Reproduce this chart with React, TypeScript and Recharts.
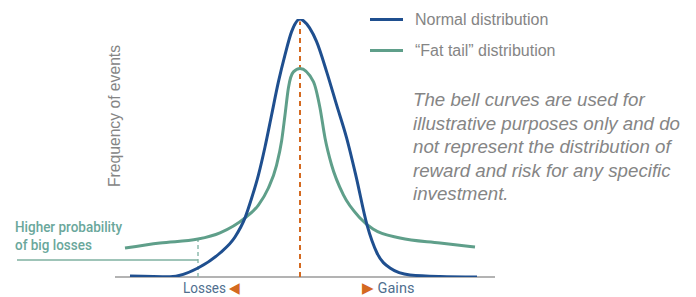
import { Line, LineChart, ReferenceLine, XAxis, YAxis } from 'recharts';

// positions on the gain/loss axis (0 = mean) and frequency (peak of normal = 100)
const normalX = [-8.5, -6.5, -5.1, -4.0, -3.25, -2.75, -2.42, -2.08, -1.75, -1.42, -1.08, -0.75, -0.42, 0, 0.17, 0.83, 1.33, 1.83, 2.33, 2.8, 3.35, 3.85, 4.5, 5.5, 7.0, 8.85];
const normalY = [0.4, 0.1, 3.5, 9.3, 15.5, 22.9, 30.5, 39.5, 50.4, 62.8, 75.6, 86.1, 95.1, 100, 99.3, 91.2, 79.6, 66.7, 53.9, 39.1, 20.2, 9.3, 3.5, 0.8, 0.2, 0];

const fatTailX = [-8.75, -7.0, -5.1, -4.0, -2.75, -2.08, -1.58, -1.17, -0.92, -0.75, -0.58, -0.33, 0, 0.67, 1.0, 1.25, 1.58, 2.17, 3.0, 3.65, 5.0, 7.0, 8.75];
const fatTailY = [11.2, 13.2, 14.7, 17.1, 22.9, 27.9, 34.5, 43.4, 52.7, 62.8, 73.3, 79.5, 80.8, 75.7, 65.5, 53.9, 43.4, 31.8, 22.9, 18.6, 15.1, 13.2, 11.6];

const seriesNames = ['Normal distribution', '\u201cFat tail\u201d distribution'];
const axisRange = [-9.25, 9.75];
const bigLossX = -5.1;
const bigLossFreq = 14.7;
const bracketY = 6.6;
const bracketStart = -14.15;
const meanTop = 99;

const note = [
  'The bell curves are used for',
  'illustrative purposes only and do',
  'not represent the distribution of',
  'reward and risk for any specific',
  'investment.',
];

const BLUE = '#1f4f8f';
const GREEN = '#5f9f8a';
const ORANGE = '#d4691f';
const GREY = '#858585';
const seriesColors = [BLUE, GREEN];

const normalData = normalX.map((x, i) => ({ x, y: normalY[i] }));
const fatTailData = fatTailX.map((x, i) => ({ x, y: fatTailY[i] }));

const narrow = 'Roboto, "Liberation Sans", sans-serif';

export default function App() {
  return (
    <div style={{ position: 'absolute', left: 0, top: 0, width: 696, height: 297, background: '#fff', overflow: 'hidden' }}>
      <LineChart width={696} height={297} margin={{ top: 19, right: 201, bottom: 20, left: 10 }}>
        <XAxis dataKey='x' type='number' domain={[-14.5, 9.75]} allowDataOverflow hide />
        <YAxis type='number' domain={[0, 100]} allowDataOverflow hide />
        <ReferenceLine
          segment={[{ x: axisRange[0], y: 0 }, { x: axisRange[1], y: 0 }]}
          stroke='#9a9a9a'
          strokeWidth={1.5}
        />
        <ReferenceLine
          segment={[{ x: 0, y: 0 }, { x: 0, y: meanTop }]}
          stroke={ORANGE}
          strokeWidth={2}
          strokeDasharray='5 4'
        />
        <ReferenceLine
          segment={[{ x: bigLossX, y: 0 }, { x: bigLossX, y: bigLossFreq }]}
          stroke='#8fbcae'
          strokeWidth={1.5}
          strokeDasharray='4 3'
        />
        <ReferenceLine
          segment={[{ x: bracketStart, y: bracketY }, { x: bigLossX, y: bracketY }]}
          stroke='#7fb0a0'
          strokeWidth={1.5}
        />
        <Line
          data={fatTailData}
          dataKey='y'
          name={seriesNames[1]}
          type='monotone'
          stroke={GREEN}
          strokeWidth={3}
          dot={false}
          isAnimationActive={false}
        />
        <Line
          data={normalData}
          dataKey='y'
          name={seriesNames[0]}
          type='monotone'
          stroke={BLUE}
          strokeWidth={3}
          dot={false}
          isAnimationActive={false}
        />
      </LineChart>

      {/* legend */}
      <div style={{ position: 'absolute', left: 370, top: 4 }}>
        {seriesNames.map((name, i) => (
          <div key={name} style={{ display: 'flex', alignItems: 'center', height: 31 }}>
            <div style={{ width: 33, height: 3, background: seriesColors[i], marginRight: 12 }} />
            <span style={{ fontFamily: '"Liberation Sans", sans-serif', fontSize: 16, color: GREY }}>{name}</span>
          </div>
        ))}
      </div>

      <div
        style={{
          position: 'absolute',
          left: 115,
          top: 116,
          transform: 'translate(-50%, -50%) rotate(-90deg)',
          whiteSpace: 'nowrap',
          fontFamily: '"Liberation Sans", sans-serif',
          fontSize: 15.7,
          color: GREY,
        }}
      >
        Frequency of events
      </div>

      <div
        style={{
          position: 'absolute',
          left: 413,
          top: 88,
          fontFamily: '"Liberation Sans", sans-serif',
          fontStyle: 'italic',
          fontSize: 18.7,
          lineHeight: '23.5px',
          color: GREY,
          whiteSpace: 'nowrap',
        }}
      >
        {note.map(l => (
          <div key={l}>{l}</div>
        ))}
      </div>

      <div
        style={{
          position: 'absolute',
          left: 15,
          top: 219,
          fontFamily: narrow,
          fontWeight: 500,
          fontSize: 14.5,
          lineHeight: '18px',
          color: '#6aa79b',
          whiteSpace: 'nowrap',
          transform: 'scaleX(0.93)',
          transformOrigin: 'left center',
        }}
      >
        <div>Higher probability</div>
        <div>of big losses</div>
      </div>

      <div
        style={{
          position: 'absolute',
          left: 183,
          top: 280,
          fontFamily: narrow,
          fontSize: 14.5,
          lineHeight: '16px',
          color: '#4f6f8f',
          whiteSpace: 'nowrap',
          transform: 'scaleX(0.93)',
          transformOrigin: 'left center',
        }}
      >
        Losses <span style={{ color: ORANGE, fontSize: 15 }}>◀</span>
      </div>
      <div
        style={{
          position: 'absolute',
          left: 362,
          top: 280,
          fontFamily: narrow,
          fontSize: 14.5,
          lineHeight: '16px',
          color: '#4f6f8f',
          whiteSpace: 'nowrap',
        }}
      >
        <span style={{ color: ORANGE, fontSize: 15 }}>▶</span> Gains
      </div>
    </div>
  );
}
